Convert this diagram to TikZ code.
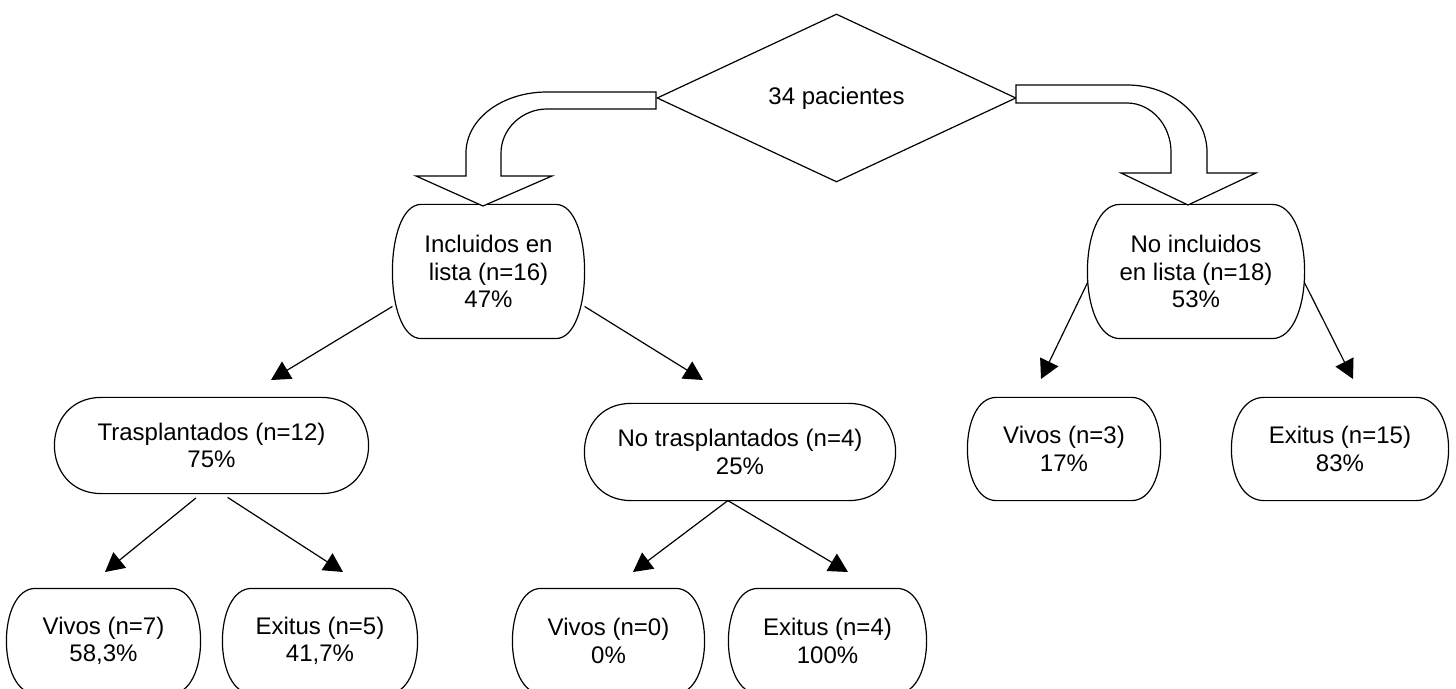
\documentclass[tikz,border=0pt]{standalone}
\usepackage{fontspec}
\setmainfont{Liberation Sans}
\usetikzlibrary{arrows.meta,calc,shapes.geometric}
\newcommand\tframe[1]{%
  \draw let \p1=(#1.north west), \p2=(#1.south east), \n1={0.15*(\x2-\x1)} in
    ({\x1+\n1},\y1) -- ({\x2-\n1},\y1)
    .. controls ({\x2+\n1/3},\y1) and ({\x2+\n1/3},\y2) .. ({\x2-\n1},\y2)
    -- ({\x1+\n1},\y2)
    .. controls ({\x1-\n1/3},\y2) and ({\x1-\n1/3},\y1) .. ({\x1+\n1},\y1) -- cycle;}

\begin{document}
\begin{tikzpicture}[x=0.5pt,y=-0.5pt,line width=0.6pt,
   font=\fontsize{12}{13.75}\selectfont,
   tb/.style args={#1/#2}{inner sep=0pt,align=center,minimum width=#1,minimum height=#2},
   arw/.style={-{Triangle[length=9.5pt,width=10pt]}},
   blk/.style={draw,fill=white,line join=miter}]
  \useasboundingbox (0,0) rectangle (1456,689);
  \clip (0,0) rectangle (1456,689);
  \node[draw,diamond,inner sep=0pt,minimum width=179.5pt,minimum height=84pt] (tot) at (836.5,98) {34 pacientes};
  \node[tb=95.5pt/66.5pt] (inc) at (488.5,271.5) {Incluidos en\\lista (n=16)\\47\%};
  \node[tb=108pt/66.5pt] (ninc) at (1196,271.5) {No incluidos\\en lista (n=18)\\53\%};
  \node[tb=156.5pt/47.5pt] (tr) at (211.5,445.5) {Trasplantados (n=12)\\75\%};
  \node[tb=155pt/48pt] (ntr) at (740,452) {No trasplantados (n=4)\\25\%};
  \node[tb=96pt/51pt] (v3) at (1064,449) {Vivos (n=3)\\17\%};
  \node[tb=108pt/51pt] (e15) at (1340,449) {Exitus (n=15)\\83\%};
  \node[tb=96.5pt/52pt] (v7) at (103.5,641) {Vivos (n=7)\\58,3\%};
  \node[tb=97pt/52pt] (e5) at (320,641) {Exitus (n=5)\\41,7\%};
  \node[tb=95.5pt/52pt] (v0) at (608.5,641) {Vivos (n=0)\\0\%};
  \node[tb=98.5pt/52pt] (e4) at (827.5,641) {Exitus (n=4)\\100\%};
  \foreach \b in {inc,ninc,tr,ntr,v3,e15,v7,e5,v0,e4} {\tframe{\b}}

  \draw[blk] (656,92) -- (547,92) .. controls (502,92) and (466,119) .. (466,153) -- (466,176) -- (416,176) -- (483,206)
     -- (552,176) -- (501,176) -- (501,153) .. controls (501,129) and (522,109) .. (547,109) -- (656,109) -- cycle;
  \draw[blk] (1016,85) -- (1127,85) .. controls (1171,85) and (1207,115) .. (1207,152) -- (1207,173) -- (1256,173) -- (1188,205)
     -- (1121,173) -- (1171,173) -- (1171,152) .. controls (1171,125) and (1151,103) .. (1127,103) -- (1016,103) -- cycle;

  \coordinate (a1) at (271,380);
  \coordinate (a2) at (703,380);
  \coordinate (a3) at (1041,379);
  \coordinate (a4) at (1353,379);
  \coordinate (a5) at (105,572);
  \coordinate (a6) at (343,572);
  \coordinate (a7) at (633,572);
  \coordinate (a8) at (848,572);
  \draw[arw] (inc.200) -- (a1);
  \draw[arw] (inc.-20) -- (a2);
  \draw[arw] (ninc.186) -- (a3);
  \draw[arw] (ninc.-6) -- (a4);
  \draw[arw,shorten <=3.5pt] (tr.258) -- (a5);
  \draw[arw,shorten <=3.5pt] (tr.282) -- (a6);
  \draw[arw] (ntr.256) -- (a7);
  \draw[arw] (ntr.256) -- (a8);
\end{tikzpicture}
\end{document}
